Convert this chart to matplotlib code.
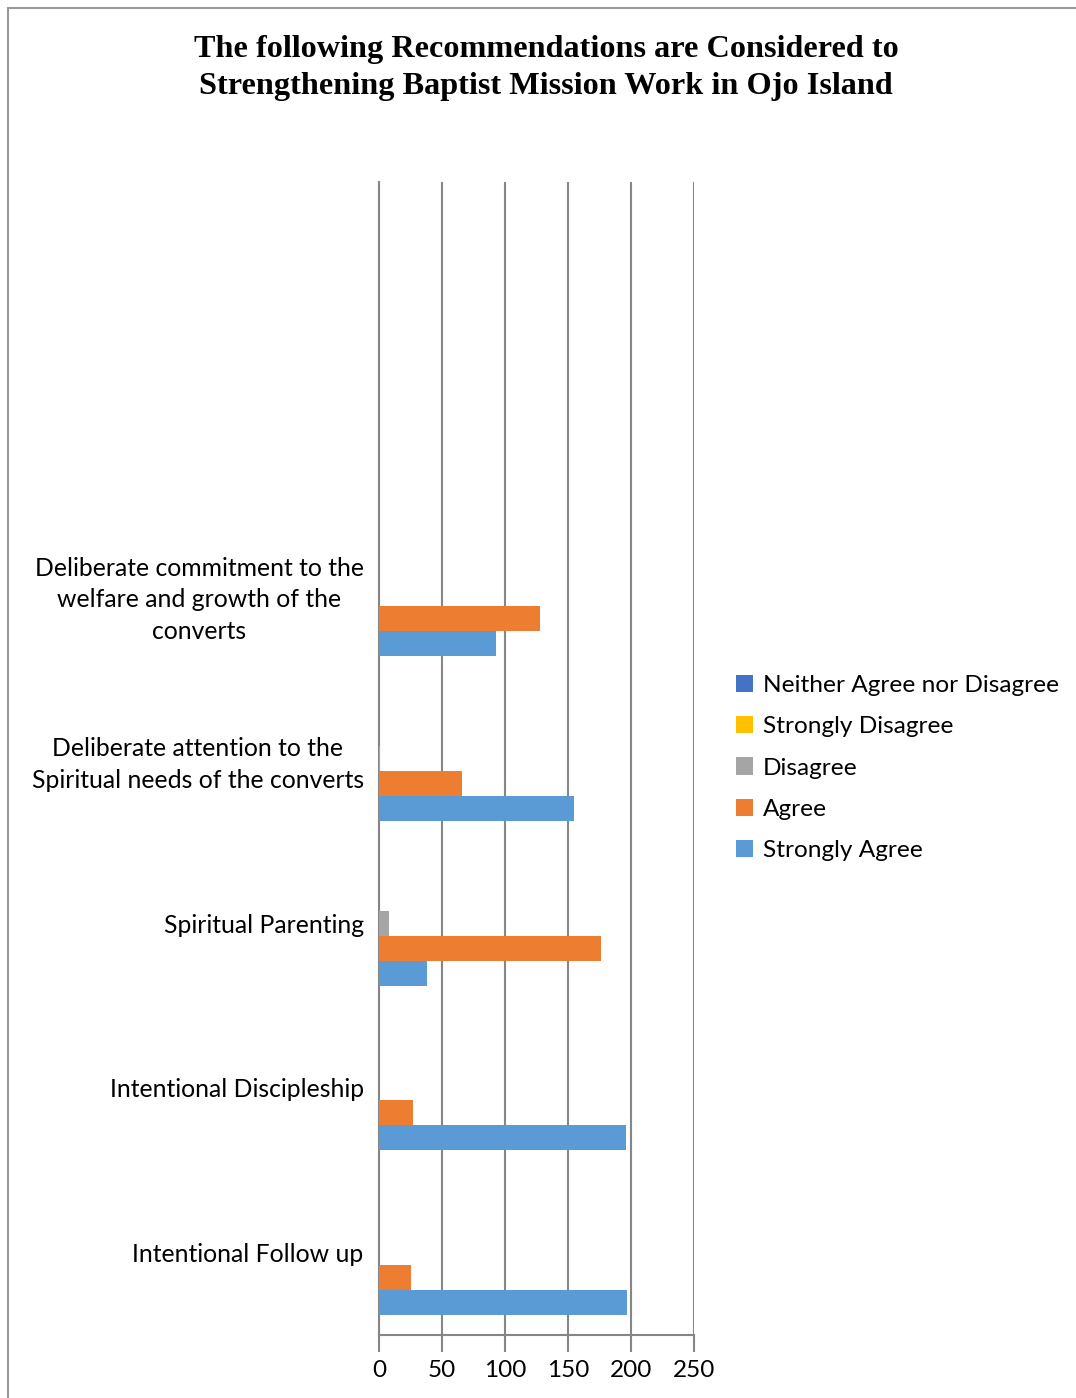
import matplotlib.pyplot as plt
import numpy as np
from matplotlib.patches import Rectangle

# Survey responses per recommendation (bottom to top as drawn)
categories = ["Intentional Follow up",
              "Intentional Discipleship",
              "Spiritual Parenting",
              "Deliberate attention to the\nSpiritual needs of the converts",
              "Deliberate commitment to the\nwelfare and growth of the\nconverts"]
strongly_agree = [197, 196, 38, 155, 93]
agree = [25, 27, 176, 66, 128]
disagree = [0, 0, 8, 1, 0]
strongly_disagree = [0, 0, 0, 0, 0]
neither = [0, 0, 0, 0, 0]

series = [("Strongly Agree", strongly_agree, "#5B9BD5"),
          ("Agree", agree, "#ED7D31"),
          ("Disagree", disagree, "#A5A5A5"),
          ("Strongly Disagree", strongly_disagree, "#FFC000"),
          ("Neither Agree nor Disagree", neither, "#4472C4")]

fig = plt.figure(figsize=(10.76, 13.98), dpi=100)
ax = fig.add_axes([379/1076, 1 - 1335/1398, 315/1076, (1335 - 182)/1398])

# chart frame
fig.patches.append(Rectangle((8/1076, -0.1), 1.2, 1 - 8/1398 + 0.1, transform=fig.transFigure,
                             fill=False, edgecolor="#9a9a9a", linewidth=1.5))

h = 25 / 165
y = np.arange(len(categories))
for i, (name, vals, col) in enumerate(series):
    ax.barh(y + (i - 2) * h, vals, height=h, color=col, label=name, zorder=3)

ax.set_xlim(0, 250)
ax.set_ylim(-0.5, 6.5)
ax.set_xticks(range(0, 251, 50))
ax.set_yticks(y)
ax.set_yticklabels(categories, fontsize=17.8, family="Lato", linespacing=1.43)
for lab in ax.get_yticklabels():
    lab.set_multialignment("center")
for lab in ax.get_xticklabels():
    lab.set_fontsize(17.5)
    lab.set_family("Lato")
ax.tick_params(axis="y", length=0, pad=11)
ax.tick_params(axis="x", length=12, color="#868686", width=1.5, pad=6)
ax.grid(axis="x", color="#868686", linewidth=1.5, zorder=0)
for s in ["top", "right"]:
    ax.spines[s].set_visible(False)
for s in ["left", "bottom"]:
    ax.spines[s].set_color("#868686")
    ax.spines[s].set_linewidth(1.5)

handles, labels = ax.get_legend_handles_labels()
fig.legend(handles[::-1], labels[::-1], loc="center left", bbox_to_anchor=(714/1076, 1 - 768/1398),
           frameon=False, prop={"family": "Lato", "size": 17.6}, handlelength=0.7, handleheight=0.7,
           handletextpad=0.4, labelspacing=0.82)

fig.text(546/1076, 1 - 68/1398,
         "The following Recommendations are Considered to\nStrengthening Baptist Mission Work in Ojo Island",
         ha="center", va="center", family="Liberation Serif", weight="bold", fontsize=23.2, linespacing=1.38)

fig.savefig("out.png", dpi=100)
